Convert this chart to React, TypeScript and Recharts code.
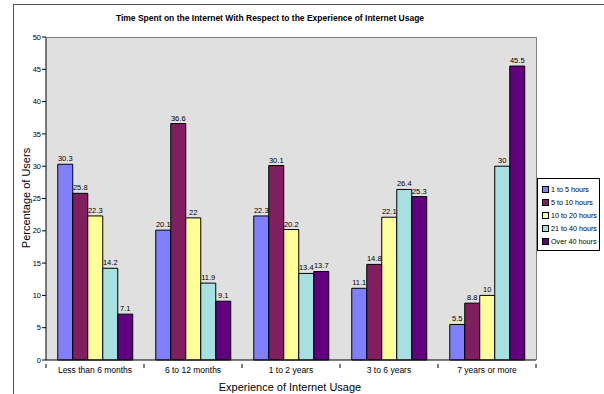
import { BarChart, Bar, XAxis, YAxis, CartesianGrid, LabelList } from 'recharts'

const EXPERIENCE = ['Less than 6 months', '6 to 12 months', '1 to 2 years', '3 to 6 years', '7 years or more']
const HOURS_1_5 = [30.3, 20.1, 22.3, 11.1, 5.5]
const HOURS_5_10 = [25.8, 36.6, 30.1, 14.8, 8.8]
const HOURS_10_20 = [22.3, 22, 20.2, 22.1, 10]
const HOURS_21_40 = [14.2, 11.9, 13.4, 26.4, 30]
const HOURS_OVER_40 = [7.1, 9.1, 13.7, 25.3, 45.5]
const Y_TICKS = [0, 5, 10, 15, 20, 25, 30, 35, 40, 45, 50]

const SERIES = [
  { key: 'h1', name: '1 to 5 hours', values: HOURS_1_5, color: '#8080ff' },
  { key: 'h2', name: '5 to 10 hours', values: HOURS_5_10, color: '#7f1f5f' },
  { key: 'h3', name: '10 to 20 hours', values: HOURS_10_20, color: '#ffff99' },
  { key: 'h4', name: '21 to 40 hours', values: HOURS_21_40, color: '#a6e0e0' },
  { key: 'h5', name: 'Over 40 hours', values: HOURS_OVER_40, color: '#62007f' },
]

const data = EXPERIENCE.map((cat, i) => {
  const row: any = { cat }
  SERIES.forEach(s => { row[s.key] = s.values[i] })
  return row
})

const FONT = '"Liberation Sans", Arial, sans-serif'
const PLOT_LEFT = 46
const PLOT_RIGHT = 536
const PLOT_TOP = 37
const PLOT_BOTTOM = 360
const BAND = (PLOT_RIGHT - PLOT_LEFT) / EXPERIENCE.length

const CatTick = (props: any) => {
  const { x, y, payload, index } = props
  return (
    <g>
      <line x1={x - BAND / 2} x2={x - BAND / 2} y1={y - 4} y2={y} stroke="#000" />
      {index === EXPERIENCE.length - 1 && (
        <line x1={x + BAND / 2} x2={x + BAND / 2} y1={y - 4} y2={y} stroke="#000" />
      )}
      <text x={x} y={y + 5} textAnchor="middle" fontSize={8.5} fill="#000" fontFamily={FONT}>{payload.value}</text>
    </g>
  )
}

// series key, drawn beside the plot
const LegendBox = () => (
  <div style={{ position: 'absolute', left: 537, top: 178, width: 63, boxSizing: 'border-box', background: '#fff', border: '1px solid #000', padding: '4px 0 2px 4px', fontFamily: FONT, fontSize: 7.2 }}>
    {SERIES.map(s => (
      <div key={s.key} style={{ display: 'flex', alignItems: 'center', height: 13, whiteSpace: 'nowrap' }}>
        <span style={{ width: 5, height: 5, flex: 'none', background: s.color, border: '1px solid #000', marginRight: 2 }} />
        <span>{s.name}</span>
      </div>
    ))}
  </div>
)

export default function App() {
  return (
    <div style={{ position: 'relative', width: 604, height: 394, overflow: 'hidden', background: '#fff' }}>
      <style>{'body{margin:0}'}</style>
      <div style={{ position: 'absolute', left: 13, top: 4, width: 700, height: 500, borderLeft: '1px solid #555', borderTop: '1px solid #555' }} />
      <div style={{ position: 'absolute', left: 0, width: 540, top: 13, textAlign: 'center', fontFamily: FONT, fontWeight: 'bold', fontSize: 8.5 }}>
        Time Spent on the Internet With Respect to the Experience of Internet Usage
      </div>
      <div style={{ position: 'absolute', left: 0, top: 0 }}>
        <BarChart width={604} height={394} data={data}
          margin={{ top: PLOT_TOP, right: 604 - PLOT_RIGHT, bottom: 394 - PLOT_BOTTOM - 20, left: 0 }}
          barCategoryGap="12%" barGap={0}>
          <CartesianGrid fill="#e0e0e0" horizontal={false} vertical={false} />
          <XAxis dataKey="cat" height={20} tickLine={false} axisLine={{ stroke: '#000' }} tick={<CatTick />} interval={0} />
          <YAxis width={PLOT_LEFT} domain={[0, 50]} ticks={Y_TICKS} interval={0} tickSize={4} tickMargin={1}
            axisLine={{ stroke: '#000' }} tickLine={{ stroke: '#000' }}
            tick={{ fontSize: 7.5, fill: '#000', fontFamily: FONT }} />
          {SERIES.map(s => (
            <Bar key={s.key} dataKey={s.key} name={s.name} fill={s.color} stroke="#000" strokeWidth={1} isAnimationActive={false}>
              <LabelList dataKey={s.key} position="top" offset={3} fontSize={7.5} fill="#000" fontFamily={FONT} />
            </Bar>
          ))}
        </BarChart>
      </div>
      <div style={{ position: 'absolute', left: PLOT_LEFT, top: PLOT_TOP, width: PLOT_RIGHT - PLOT_LEFT + 1, height: PLOT_BOTTOM - PLOT_TOP, borderTop: '1px solid #808080', borderRight: '1px solid #808080', boxSizing: 'border-box', pointerEvents: 'none' }} />
      <LegendBox />
      <div style={{ position: 'absolute', left: 0, width: 580, top: 381, textAlign: 'center', fontFamily: FONT, fontSize: 11 }}>
        Experience of Internet Usage
      </div>
      <div style={{ position: 'absolute', left: 26, top: 198, transform: 'translate(-50%, -50%) rotate(-90deg)', whiteSpace: 'nowrap', fontFamily: FONT, fontSize: 11 }}>
        Percentage of Users
      </div>
    </div>
  )
}
